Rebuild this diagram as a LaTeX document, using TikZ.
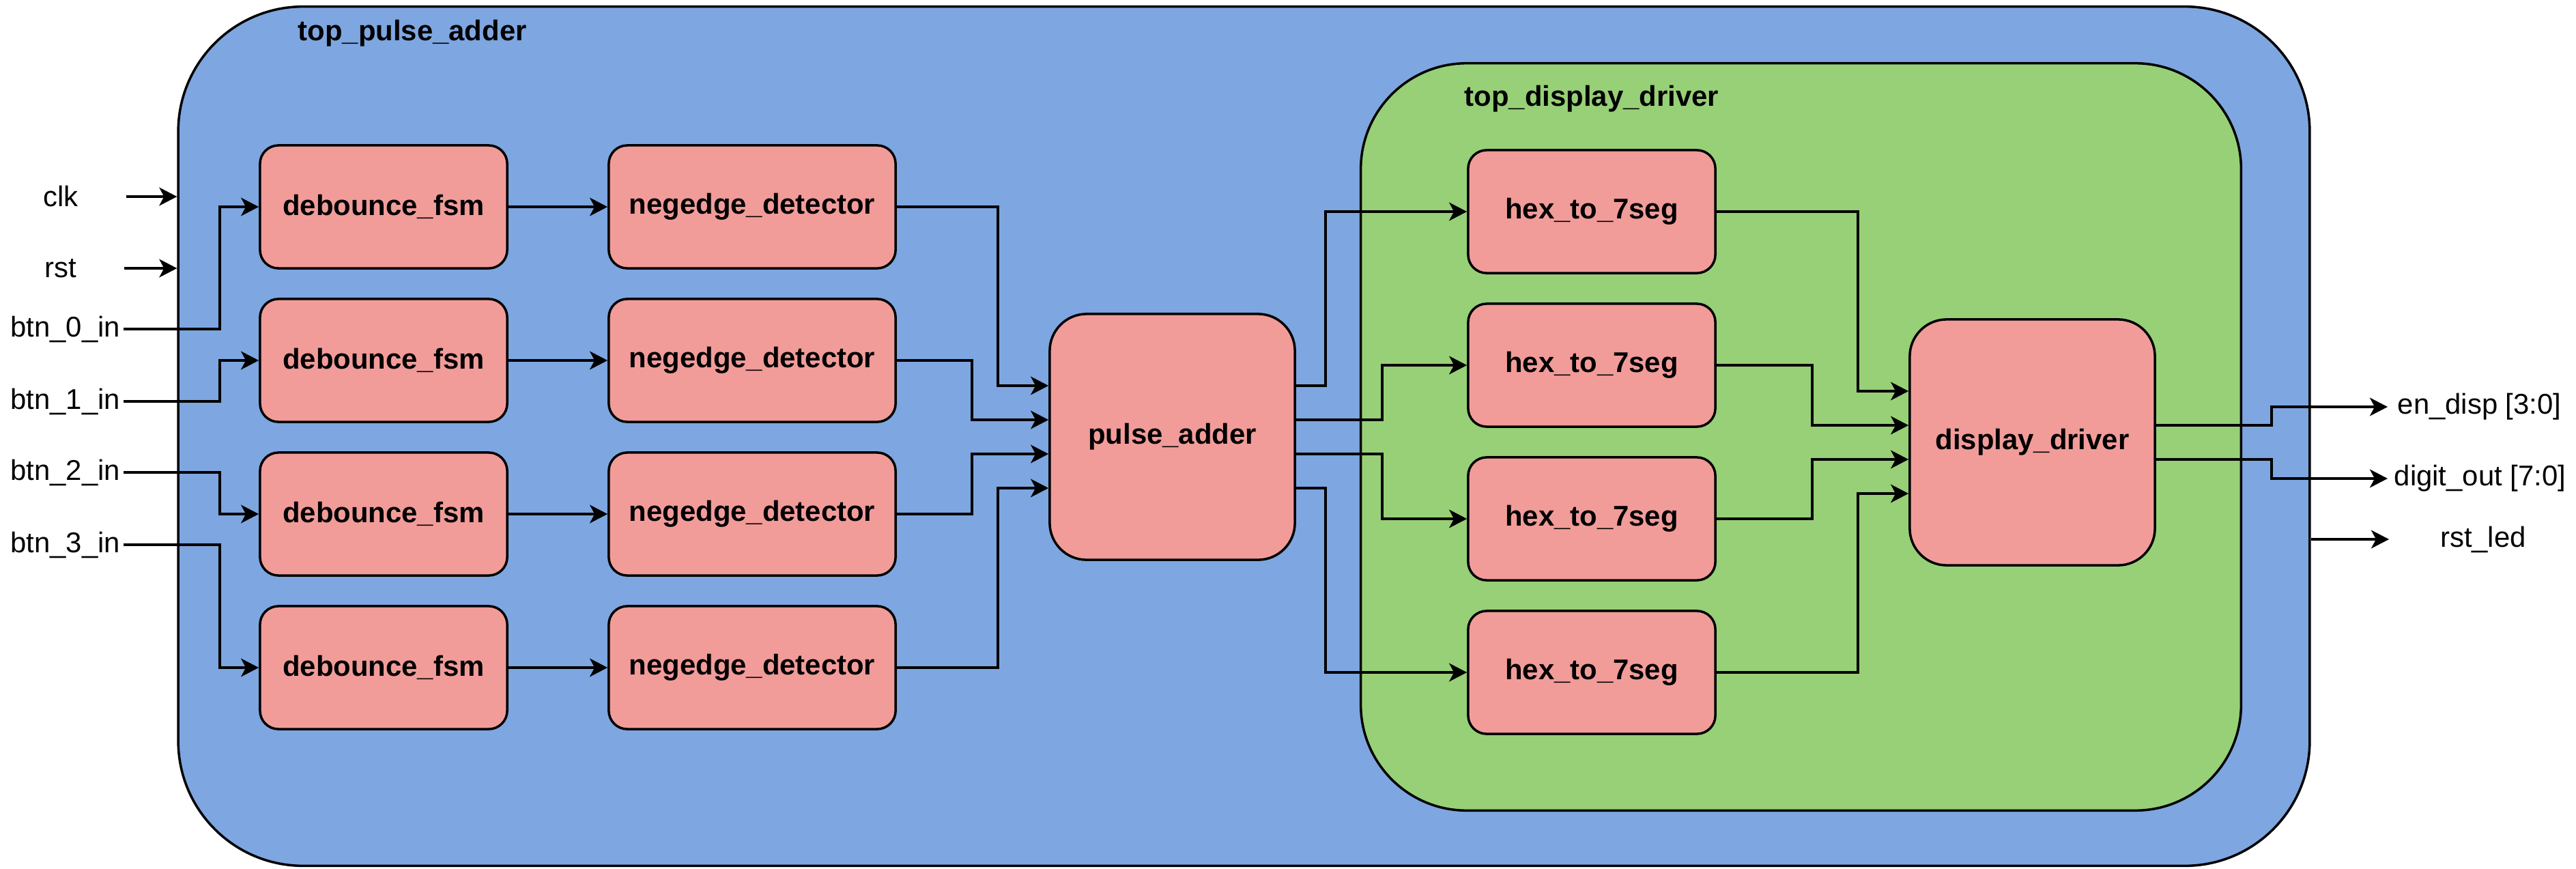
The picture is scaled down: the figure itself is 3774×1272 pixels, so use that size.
\documentclass[tikz,border=0pt]{standalone}
\usepackage{fontspec}
\setmainfont{Liberation Sans}
\usetikzlibrary{arrows.meta,calc}
\definecolor{outerblue}{HTML}{7EA6E0}
\definecolor{innergreen}{HTML}{97D077}
\definecolor{blockred}{HTML}{F19C99}
\begin{document}
\begin{tikzpicture}[x=0.01cm,y=-0.01cm,
  lw/.style={line width=1pt},
  txt/.style={font=\fontsize{11.9pt}{14pt}\selectfont},
  btxt/.style={font=\bfseries\fontsize{11.9pt}{14pt}\selectfont},
  outerbox/.style={draw,lw,fill=outerblue,rounded corners=1.83cm,minimum width=31.21cm,minimum height=12.58cm,inner sep=0pt},
  greenbox/.style={draw,lw,fill=innergreen,rounded corners=1.55cm,minimum width=12.89cm,minimum height=10.94cm,inner sep=0pt},
  blk/.style={draw,lw,fill=blockred,rounded corners=0.27cm,minimum width=3.62cm,minimum height=1.8cm,inner sep=0pt,btxt},
  wideblk/.style={blk,minimum width=4.2cm},
  bigblk/.style={blk,rounded corners=0.54cm,minimum width=3.59cm,minimum height=3.6cm},
  title/.style={btxt,anchor=west,inner sep=0pt},
  lbl/.style={txt,inner sep=1.2pt},
  conn/.style={lw,-{Stealth[length=7.4pt,width=7.6pt,inset=2pt]}},
  wire/.style={lw}]
\fill[white] (0,0) rectangle (3774,1272);
\useasboundingbox (0,0) rectangle (3774,1272);

% containers
\node[outerbox] (top) at (1822.5,639) {};
\node[title] (toptitle) at (436,49) {top\_pulse\_adder};
\node[greenbox] (disp) at (2638.5,640) {};
\node[title] (disptitle) at (2145,145) {top\_display\_driver};

% input labels
\node[lbl] (clk) at (89,288) {clk};
\node[lbl] (rst) at (89,393) {rst};
\node[lbl,anchor=east] (b0) at (181,482) {btn\_0\_in};
\node[lbl,anchor=east] (b1) at (181,588) {btn\_1\_in};
\node[lbl,anchor=east] (b2) at (181,692) {btn\_2\_in};
\node[lbl,anchor=east] (b3) at (181,798) {btn\_3\_in};

% debounce
\node[blk] (db1) at (562,303) {debounce\_fsm};
\node[blk] (db2) at (562,528) {debounce\_fsm};
\node[blk] (db3) at (562,753) {debounce\_fsm};
\node[blk] (db4) at (562,978) {debounce\_fsm};

% negedge
\node[wideblk] (ne1) at (1102,303) {negedge\_detector};
\node[wideblk] (ne2) at (1102,528) {negedge\_detector};
\node[wideblk] (ne3) at (1102,753) {negedge\_detector};
\node[wideblk] (ne4) at (1102,978) {negedge\_detector};

% pulse adder
\node[bigblk] (pa) at (1717.5,640) {pulse\_adder};

% hex
\node[blk] (hx1) at (2332,310) {hex\_to\_7seg};
\node[blk] (hx2) at (2332,535) {hex\_to\_7seg};
\node[blk] (hx3) at (2332,760) {hex\_to\_7seg};
\node[blk] (hx4) at (2332,985) {hex\_to\_7seg};

% display driver
\node[bigblk] (dd) at (2977.5,648) {display\_driver};

% output labels
\node[lbl,anchor=west,inner sep=4pt] (en) at (3498,596) {en\_disp [3:0]};
\node[lbl,anchor=west,inner sep=2.6pt] (dig) at (3498,701) {digit\_out [7:0]};
\node[lbl] (rl) at (3638,790) {rst\_led};

% jog coordinates
\coordinate (xin) at (322,0);
\coordinate (xa) at (1462,0);
\coordinate (xb) at (1424,0);
\coordinate (xc) at (1942,0);
\coordinate (xd) at (2025,0);
\coordinate (xe) at (2722,0);
\coordinate (xf) at (2655,0);
\coordinate (xg) at (3328,0);

% ports
\coordinate (pain1) at ($(pa.west)+(0,-75)$);
\coordinate (pain2) at ($(pa.west)+(0,-25)$);
\coordinate (pain3) at ($(pa.west)+(0,25)$);
\coordinate (pain4) at ($(pa.west)+(0,75)$);
\coordinate (paout1) at ($(pa.east)+(0,-75)$);
\coordinate (paout2) at ($(pa.east)+(0,-25)$);
\coordinate (paout3) at ($(pa.east)+(0,25)$);
\coordinate (paout4) at ($(pa.east)+(0,75)$);
\coordinate (ddin1) at ($(dd.west)+(0,-75)$);
\coordinate (ddin2) at ($(dd.west)+(0,-25)$);
\coordinate (ddin3) at ($(dd.west)+(0,25)$);
\coordinate (ddin4) at ($(dd.west)+(0,75)$);
\coordinate (ddout1) at ($(dd.east)+(0,-25)$);
\coordinate (ddout2) at ($(dd.east)+(0,25)$);

% clk / rst arrows
\coordinate (clks) at (185,288);
\coordinate (rsts) at (182,393);
\draw[conn] (clks) -- (clks -| top.west);
\draw[conn] (rsts) -- (rsts -| top.west);

% buttons
\draw[conn] (b0.east) -- (b0.east -| xin) |- (db1.west);
\draw[conn] (b1.east) -- (b1.east -| xin) |- (db2.west);
\draw[conn] (b2.east) -- (b2.east -| xin) |- (db3.west);
\draw[conn] (b3.east) -- (b3.east -| xin) |- (db4.west);

% debounce -> negedge
\draw[conn] (db1.east) -- (ne1.west);
\draw[conn] (db2.east) -- (ne2.west);
\draw[conn] (db3.east) -- (ne3.west);
\draw[conn] (db4.east) -- (ne4.west);

% negedge -> pulse adder
\draw[conn] (ne1.east) -- (ne1.east -| xa) |- (pain1);
\draw[conn] (ne2.east) -- (ne2.east -| xb) |- (pain2);
\draw[conn] (ne3.east) -- (ne3.east -| xb) |- (pain3);
\draw[conn] (ne4.east) -- (ne4.east -| xa) |- (pain4);

% pulse adder -> hex
\draw[conn] (paout1) -| (xc |- hx1.west) -- (hx1.west);
\draw[conn] (paout2) -| (xd |- hx2.west) -- (hx2.west);
\draw[conn] (paout3) -| (xd |- hx3.west) -- (hx3.west);
\draw[conn] (paout4) -| (xc |- hx4.west) -- (hx4.west);

% hex -> display driver
\draw[conn] (hx1.east) -| (xe |- ddin1) -- (ddin1);
\draw[conn] (hx2.east) -| (xf |- ddin2) -- (ddin2);
\draw[conn] (hx3.east) -| (xf |- ddin3) -- (ddin3);
\draw[conn] (hx4.east) -| (xe |- ddin4) -- (ddin4);

% outputs
\draw[conn] (ddout1) -| (xg |- en.west) -- (en.west);
\draw[conn] (ddout2) -| (xg |- dig.west) -- (dig.west);
\coordinate (rlend) at (3500,790);
\draw[conn] (rlend -| top.east) -- (rlend);
\end{tikzpicture}
\end{document}
